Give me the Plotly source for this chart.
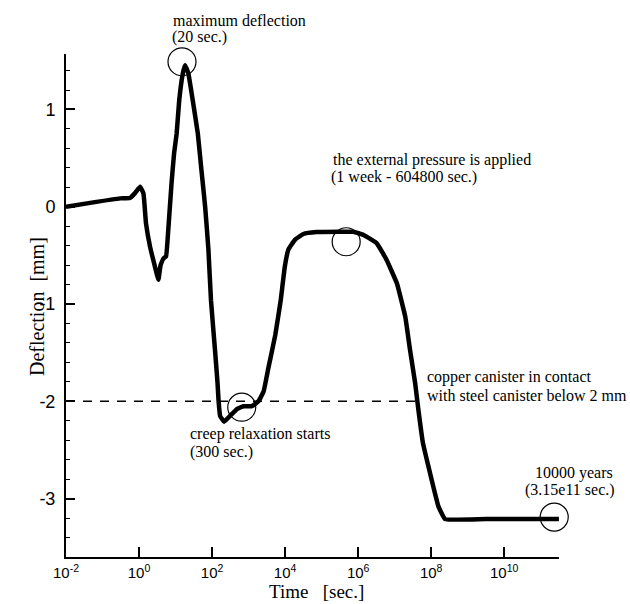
import plotly.graph_objects as go

# ---- data ----
time_s = [0.01, 0.0457, 0.302, 0.562, 0.776, 1.07, 1.32, 1.55, 2.0, 2.75, 3.39,
          3.89, 4.68, 5.5, 6.31, 7.76, 9.12, 10.7, 12.6, 15.8, 18.2, 22.4, 29.5,
          40.7, 50.1, 64.6, 79.4, 93.3, 120, 141, 151, 166, 214, 309, 479, 724,
          1230, 1860, 2570, 3470, 5370, 7590, 9770, 12300, 18600, 31600, 72400,
          316000, 741000, 1.41e6, 3.24e6, 6.03e6, 1.15e7, 1.95e7, 2.63e7, 3.63e7,
          4.47e7, 5.89e7, 9.33e7, 1.58e8, 2.4e8, 3.16e9, 3.15e11]
deflection_mm = [0.0, 0.04, 0.086, 0.09, 0.14, 0.205, 0.137, -0.17, -0.41, -0.62, -0.75,
                 -0.6, -0.53, -0.51, -0.24, 0.24, 0.55, 0.75, 1.095, 1.37, 1.455, 1.37, 1.095,
                 0.753, 0.41, 0.0, -0.44, -0.96, -1.47, -1.81, -2.0, -2.15, -2.21, -2.15, -2.08, -2.05,
                 -2.05, -2.0, -1.9, -1.66, -1.32, -0.96, -0.62, -0.44, -0.34, -0.28, -0.26,
                 -0.257, -0.257, -0.29, -0.376, -0.547, -0.787, -1.13, -1.47, -1.81,
                 -2.09, -2.42, -2.74, -3.08, -3.21, -3.21, -3.21]

contact_time_s = [0.01, 4.47e7]
contact_level_mm = [-2.0, -2.0]

highlight_time_s = [15, 650, 4.7e5, 2.34e11]
highlight_defl_mm = [1.49, -2.06, -0.36, -3.19]

x_tick_vals = [1e-2, 1e0, 1e2, 1e4, 1e6, 1e8, 1e10]
x_tick_text = ["10<sup>-2</sup>", "10<sup>0</sup>", "10<sup>2</sup>", "10<sup>4</sup>",
               "10<sup>6</sup>", "10<sup>8</sup>", "10<sup>10</sup>"]
y_tick_vals = [1, 0, -1, -2, -3]
y_tick_text = ["1", "0", "-1", "-2", "-3"]

# ---- layout geometry (pixels) ----
W, H = 630, 604
L, R, T, B = 66, 559, 54, 557


def fx(x):
    return (x - L) / (R - L)


def fy(y):
    return (B - y) / (B - T)


fig = go.Figure()

fig.add_trace(go.Scatter(
    x=contact_time_s, y=contact_level_mm, mode="lines",
    line=dict(color="black", width=1.5, dash="9px,8px"),
    hoverinfo="skip", showlegend=False))

fig.add_trace(go.Scatter(
    x=time_s, y=deflection_mm, mode="lines",
    line=dict(color="black", width=4.5, shape="spline", smoothing=0.3),
    showlegend=False))

fig.add_trace(go.Scatter(
    x=highlight_time_s, y=highlight_defl_mm, mode="markers",
    marker=dict(symbol="circle-open", size=28, color="black", line=dict(width=1.2)),
    cliponaxis=False, hoverinfo="skip", showlegend=False))

notes = [
    ("maximum deflection", 171, 20),
    ("(20 sec.)", 170, 37),
    ("the external pressure is applied", 331, 160),
    ("(1 week - 604800 sec.)", 329, 177),
    ("copper canister in contact", 425, 377),
    ("with steel canister below 2 mm", 425, 395),
    ("creep relaxation starts", 188, 434),
    ("(300 sec.)", 188, 452),
    ("10000 years", 533, 473),
    ("(3.15e11 sec.)", 523, 490),
]
annotations = []
for text, x, y in notes:
    annotations.append(dict(
        text=text, xref="paper", yref="paper", x=fx(x), y=fy(y),
        xanchor="left", yanchor="middle", showarrow=False,
        font=dict(family="Liberation Serif", size=16, color="black")))

annotations.append(dict(
    text="Time\u00a0\u00a0\u00a0[sec.]", xref="paper", yref="paper",
    x=fx(316), y=fy(591), xanchor="center", yanchor="middle", showarrow=False,
    font=dict(family="Liberation Serif", size=19, color="black")))
annotations.append(dict(
    text="Deflection\u00a0\u00a0[mm]", xref="paper", yref="paper",
    x=fx(37), y=fy(307), xanchor="center", yanchor="middle", showarrow=False,
    textangle=-90,
    font=dict(family="Liberation Serif", size=20, color="black")))

fig.update_layout(
    width=W, height=H,
    margin=dict(l=L, r=W - R, t=T, b=H - B, pad=0),
    paper_bgcolor="white", plot_bgcolor="white",
    annotations=annotations,
    xaxis=dict(
        type="log", range=[-2, 11.5],
        tickvals=x_tick_vals, ticktext=x_tick_text,
        ticks="inside", ticklen=10, tickwidth=2, tickcolor="black",
        showline=True, linecolor="black", linewidth=2,
        showgrid=False, zeroline=False,
        ticklabelstandoff=1,
        tickfont=dict(family="Liberation Sans", size=15, color="black"),
    ),
    yaxis=dict(
        range=[-3.6, 1.57],
        tickvals=y_tick_vals, ticktext=y_tick_text,
        ticks="inside", ticklen=9, tickwidth=2, tickcolor="black",
        minor=dict(dtick=0.2, tick0=0, ticks="inside", ticklen=4, tickwidth=1, tickcolor="black"),
        showline=True, linecolor="black", linewidth=2,
        showgrid=False, zeroline=False,
        ticklabelstandoff=5,
        tickfont=dict(family="Liberation Sans", size=18, color="black"),
    ),
)

fig.write_html("out.html")
